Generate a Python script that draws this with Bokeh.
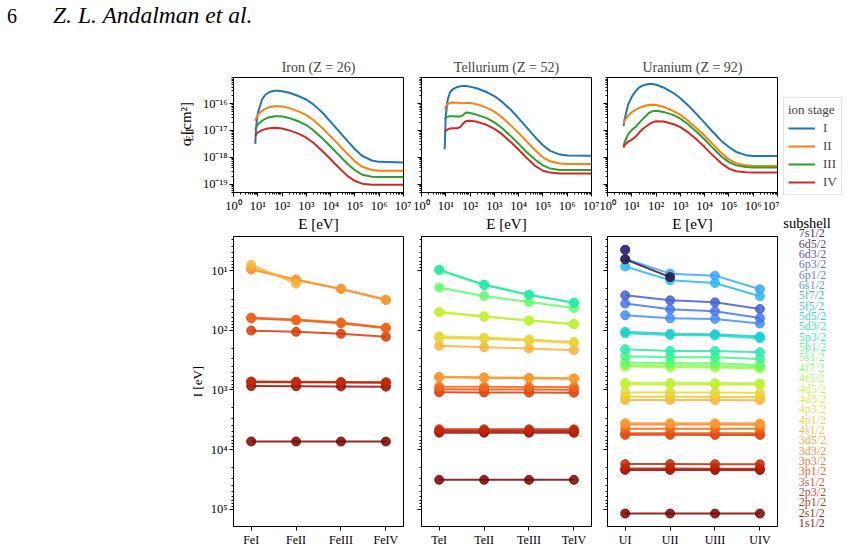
import numpy as np
from bokeh.plotting import figure
from bokeh.models import (Range1d, FixedTicker, CustomJSTickFormatter,
                          Legend, LegendItem, Div, ColumnDataSource)
from bokeh.layouts import row, column
from bokeh.palettes import Turbo256
from bokeh.embed import file_html
from bokeh.resources import INLINE
from bokeh.core.properties import value

SERIF = "Liberation Serif"
nan = float("nan")

ION_STAGES = ["I", "II", "III", "IV"]
ION_COLORS = ["#1f77b4", "#ff7f0e", "#2ca02c", "#d62728"]

# ---- electron-impact ionisation cross sections -------------------------
# energy grid [eV] and log10(sigma_EII / cm^2) for ion stages I..IV
FE_E = [7.9, 8.5, 10, 15, 20, 30, 50, 70, 100, 200, 500, 1e3, 2e3, 5e3,
        1e4, 2e4, 5e4, 1e5, 2e5, 5e5, 1e6, 1e7]
FE_LOGSIG_I = [-17.5, -16.9, -16.35, -15.85, -15.68, -15.57, -15.52, -15.52,
               -15.54, -15.60, -15.73, -15.85, -16.04, -16.37, -16.68, -16.99,
               -17.40, -17.70, -17.95, -18.12, -18.17, -18.19]
FE_LOGSIG_II = [-16.65, -16.55, -16.42, -16.27, -16.20, -16.13, -16.10, -16.10,
                -16.11, -16.17, -16.30, -16.43, -16.62, -16.95, -17.22, -17.50,
                -17.88, -18.15, -18.35, -18.47, -18.50, -18.50]
FE_LOGSIG_III = [-16.97, -16.90, -16.78, -16.64, -16.57, -16.51, -16.47, -16.47,
                 -16.48, -16.54, -16.67, -16.80, -17.00, -17.33, -17.60, -17.88,
                 -18.25, -18.48, -18.65, -18.72, -18.73, -18.73]
FE_LOGSIG_IV = [-17.20, -17.15, -17.08, -16.99, -16.95, -16.92, -16.90, -16.91,
                -16.93, -17.00, -17.13, -17.27, -17.47, -17.80, -18.07, -18.35,
                -18.70, -18.88, -18.98, -19.02, -19.02, -19.02]

TE_E = [9.0, 9.5, 10, 12, 15, 20, 30, 40, 50, 60, 70, 100, 200, 500, 1e3,
        2e3, 5e3, 1e4, 2e4, 5e4, 1e5, 2e5, 5e5, 1e6, 1e7]
TE_LOGSIG_I = [-17.70, -17.00, -16.45, -15.85, -15.58, -15.46, -15.38, -15.36,
               -15.35, -15.35, -15.35, -15.37, -15.44, -15.58, -15.72, -15.92,
               -16.25, -16.55, -16.86, -17.27, -17.55, -17.76, -17.90, -17.93,
               -17.94]
TE_LOGSIG_II = [-16.21, -16.17, -16.12, -16.02, -15.97, -15.96, -15.97, -15.98,
                -15.99, -15.99, -15.98, -15.98, -16.03, -16.16, -16.30, -16.50,
                -16.83, -17.10, -17.38, -17.76, -18.00, -18.15, -18.23, -18.25,
                -18.25]
TE_LOGSIG_III = [-16.58, -16.56, -16.53, -16.49, -16.47, -16.47, -16.48, -16.48,
                 -16.44, -16.37, -16.33, -16.35, -16.42, -16.55, -16.70, -16.90,
                 -17.23, -17.50, -17.78, -18.10, -18.30, -18.42, -18.47, -18.47,
                 -18.47]
TE_LOGSIG_IV = [-17.07, -17.05, -17.02, -16.96, -16.93, -16.92, -16.92, -16.87,
                -16.76, -16.68, -16.65, -16.64, -16.68, -16.80, -16.94, -17.13,
                -17.45, -17.72, -18.00, -18.33, -18.50, -18.57, -18.60, -18.60,
                -18.60]

U_E = [4.6, 5, 7, 10, 15, 20, 30, 50, 70, 100, 200, 500, 1e3, 2e3, 5e3, 1e4,
       2e4, 5e4, 1e5, 2e5, 5e5, 1e6, 1e7]
U_LOGSIG_I = [-16.84, -16.60, -16.05, -15.75, -15.52, -15.40, -15.32, -15.27,
              -15.27, -15.30, -15.40, -15.60, -15.80, -16.05, -16.42, -16.72,
              -17.02, -17.40, -17.62, -17.80, -17.92, -17.95, -17.95]
U_LOGSIG_II = [-16.74, -16.65, -16.45, -16.32, -16.22, -16.17, -16.10, -16.05,
               -16.04, -16.05, -16.12, -16.27, -16.42, -16.63, -16.95, -17.20,
               -17.48, -17.85, -18.08, -18.22, -18.30, -18.32, -18.32]
U_LOGSIG_III = [-17.63, -17.45, -17.15, -16.98, -16.85, -16.72, -16.55, -16.35,
                -16.29, -16.27, -16.31, -16.42, -16.56, -16.76, -17.08, -17.34,
                -17.62, -17.98, -18.18, -18.30, -18.36, -18.38, -18.38]
U_LOGSIG_IV = [-17.63, -17.55, -17.42, -17.35, -17.22, -17.08, -16.93, -16.78,
               -16.70, -16.66, -16.67, -16.76, -16.88, -17.06, -17.36, -17.62,
               -17.90, -18.23, -18.42, -18.52, -18.56, -18.57, -18.57]

# ---- subshell ionisation energies [eV] for stages I..IV -----------------
SUBSHELLS = ["1s1/2", "2s1/2", "2p1/2", "2p3/2", "3s1/2", "3p1/2", "3p3/2",
             "3d3/2", "3d5/2", "4s1/2", "4p1/2", "4p3/2", "4d3/2", "4d5/2",
             "4f5/2", "4f7/2", "5s1/2", "5p1/2", "5p3/2", "5d3/2", "5d5/2",
             "5f5/2", "5f7/2", "6s1/2", "6p1/2", "6p3/2", "6d3/2", "6d5/2",
             "7s1/2"]

FE_IONS = ["FeI", "FeII", "FeIII", "FeIV"]
FE_BINDING = {
    "1s1/2": [7300, 7305, 7310, 7315],
    "2s1/2": [860, 865, 872, 880],
    "2p1/2": [735, 740, 747, 755],
    "2p3/2": [720, 725, 732, 740],
    "3s1/2": [101, 106, 114, 128],
    "3p1/2": [63, 68, 76, 92],
    "3p3/2": [61, 66, 74, 90],
    "3d3/2": [9.5, 14.3, 20.3, 31.0],
    "3d5/2": [9.3, 14.0, 20.0, 30.5],
    "4s1/2": [8.0, 16.5, nan, nan],
}

TE_IONS = ["TeI", "TeII", "TeIII", "TeIV"]
TE_BINDING = {
    "1s1/2": [32100, 32100, 32110, 32120],
    "2s1/2": [5200, 5205, 5210, 5215],
    "2p1/2": [4860, 4865, 4870, 4875],
    "2p3/2": [4560, 4565, 4570, 4575],
    "3s1/2": [1095, 1100, 1105, 1110],
    "3p1/2": [975, 980, 985, 990],
    "3p3/2": [880, 885, 890, 895],
    "3d3/2": [612, 625, 635, 650],
    "3d5/2": [600, 613, 623, 638],
    "4s1/2": [182, 192, 202, 215],
    "4p1/2": [134, 139, 148, 163],
    "4p3/2": [126, 132, 142, 156],
    "4d3/2": [50, 59, 69, 79],
    "4d5/2": [49, 58, 68, 78],
    "5s1/2": [19.2, 26.6, 33.5, 42.2],
    "5p1/2": [9.8, 17.4, 25.5, 34.6],
    "5p3/2": [9.6, 17.1, 25.2, 34.3],
}

U_IONS = ["UI", "UII", "UIII", "UIV"]
U_BINDING = {
    "1s1/2": [118000, 118000, 118100, 118200],
    "2s1/2": [21900, 21900, 21950, 22000],
    "2p1/2": [20800, 20800, 20850, 20900],
    "2p3/2": [17500, 17500, 17550, 17600],
    "3s1/2": [5650, 5655, 5660, 5670],
    "3p1/2": [5300, 5305, 5310, 5320],
    "3p3/2": [4450, 4455, 4460, 4470],
    "3d3/2": [3800, 3805, 3810, 3820],
    "3d5/2": [3600, 3605, 3610, 3620],
    "4s1/2": [1470, 1473, 1476, 1482],
    "4p1/2": [1300, 1303, 1306, 1312],
    "4p3/2": [1097, 1100, 1103, 1109],
    "4d3/2": [805, 808, 811, 817],
    "4d5/2": [757, 760, 763, 769],
    "4f5/2": [403, 414, 420, 435],
    "4f7/2": [384, 389, 392, 414],
    "5s1/2": [346, 355, 355, 384],
    "5p1/2": [271, 282, 282, 301],
    "5p3/2": [207, 221, 221, 232],
    "5d3/2": [112, 120, 122, 136],
    "5d5/2": [106, 114, 116, 127],
    "5f5/2": [8.5, 14.5, 16.1, 26.9],
    "5f7/2": [6.3, 11.2, 12.1, 20.5],
    "6s1/2": [55.8, 62.8, 64.4, 76.9],
    "6p1/2": [35.6, 44.4, 47.9, 62.0],
    "6p3/2": [25.9, 31.4, 33.9, 43.8],
    "6d3/2": [4.46, nan, nan, nan],
    "6d5/2": [4.46, nan, nan, nan],
    "7s1/2": [6.47, 12.8, nan, nan],
}

# ---- axis helpers -------------------------------------------------------
SUP_FORMAT = CustomJSTickFormatter(code="""
const sup = {"0": "\u2070", "1": "\u00b9", "2": "\u00b2", "3": "\u00b3",
             "4": "\u2074", "5": "\u2075", "6": "\u2076", "7": "\u2077",
             "8": "\u2078", "9": "\u2079", "-": "\u207b"};
const e = Math.round(Math.log10(tick));
return "10" + String(e).split("").map(c => sup[c]).join("");
""")
BLANK_FORMAT = CustomJSTickFormatter(code="return '';")

TOP_X = (1, 1e7)
TOP_Y = (10 ** -19.31, 10 ** -15.03)
TOP_H, BOT_H = 199, 315
STRIP_W = 195


def decades(lo, hi):
    return [10.0 ** k for k in range(lo, hi + 1)]


def minors(lo, hi):
    return [m * 10.0 ** k for k in range(lo, hi) for m in range(2, 10)]


def style(p):
    p.grid.visible = False
    p.outline_line_color = "black"
    p.outline_line_width = 1
    p.background_fill_color = "white"
    p.border_fill_color = "white"
    for ax in p.axis:
        ax.axis_line_color = "black"
        ax.major_tick_line_color = "black"
        ax.minor_tick_line_color = "black"
        ax.major_tick_in = 0
        ax.major_tick_out = 4
        ax.minor_tick_in = 0
        ax.minor_tick_out = 2
        ax.major_label_text_font = SERIF
        ax.major_label_text_font_size = "12.5px"
        ax.major_label_text_color = "black"
        ax.major_label_standoff = 2
        ax.axis_label_text_font = SERIF
        ax.axis_label_text_font_style = "normal"
        ax.axis_label_text_font_size = "15px"
        ax.axis_label_text_color = "black"
        ax.axis_label_standoff = 3


def top_panel(title, energies, curves, width, left, right, first):
    p = figure(width=width, height=TOP_H, x_axis_type="log", y_axis_type="log",
               x_range=Range1d(*TOP_X), y_range=Range1d(*TOP_Y),
               min_border_left=left, min_border_right=right,
               min_border_top=42, min_border_bottom=41,
               toolbar_location=None, output_backend="svg", title=title)
    for logsig, color in zip(curves, ION_COLORS):
        p.line(energies, 10.0 ** np.asarray(logsig), line_color=color, line_width=2)
    style(p)
    p.title.align = "center"
    p.title.text_font = SERIF
    p.title.text_font_size = "14px"
    p.title.text_font_style = "normal"
    p.title.standoff = 6
    p.xaxis.ticker = FixedTicker(ticks=decades(0, 7), minor_ticks=minors(0, 7))
    p.xaxis.formatter = SUP_FORMAT
    p.xaxis.axis_label = "E [eV]"
    p.xaxis.axis_label_standoff = 0
    p.yaxis.ticker = FixedTicker(ticks=decades(-19, -15), minor_ticks=minors(-20, -15))
    p.yaxis.formatter = SUP_FORMAT if first else BLANK_FORMAT
    return p


def bottom_panel(ions, binding, width, left, right, first):
    p = figure(width=width, height=BOT_H, y_axis_type="log",
               x_range=Range1d(-0.394, 3.392), y_range=Range1d(1.946e5, 2.67),
               min_border_left=left, min_border_right=right,
               min_border_top=2, min_border_bottom=22,
               toolbar_location=None, output_backend="svg")
    stage = list(range(len(ions)))
    n = len(SUBSHELLS) - 1
    for idx, shell in enumerate(SUBSHELLS):
        if shell not in binding:
            continue
        color = Turbo256[int(round((1 - idx / n) * 255))]
        vals = np.asarray(binding[shell], dtype=float)
        p.line(stage, vals, line_color=color, line_width=2, line_alpha=0.85)
        p.scatter(stage, vals, size=9, fill_color=color, line_color=color,
                  fill_alpha=0.85, line_alpha=0.85)
    style(p)
    p.xaxis.ticker = FixedTicker(ticks=stage)
    p.xaxis.major_label_overrides = {i: name for i, name in enumerate(ions)}
    p.xaxis.major_label_text_font_size = "12px"
    p.yaxis.ticker = FixedTicker(ticks=decades(0, 6), minor_ticks=minors(0, 6))
    if first:
        p.yaxis.formatter = SUP_FORMAT
        p.yaxis.axis_label = "I [eV]"
        p.yaxis.axis_label_text_font_size = "13px"
    else:
        p.yaxis.formatter = BLANK_FORMAT
    return p


# strip to the left of the iron panel carrying the sigma_EII [cm^2] label,
# laid out in pixel units (y measured upward from the strip's bottom edge);
# each piece is turned a quarter turn anticlockwise so that it reads upward
ylabel_strip = figure(width=STRIP_W, height=TOP_H, x_range=Range1d(0, STRIP_W),
                      y_range=Range1d(0, TOP_H), x_axis_location=None,
                      y_axis_location=None, min_border=0, toolbar_location=None,
                      output_backend="svg", outline_line_color=None)
ylabel_strip.grid.visible = False
YLABEL_TEXT = ["σ", "EII", "[cm²]"]
YLABEL_X = [185.0, 189.0, 185.0]
YLABEL_Y = [80.0, 88.5, 100.0]
YLABEL_SIZE = ["15px", "10px", "15px"]
for txt, lx, ly, size in zip(YLABEL_TEXT, YLABEL_X, YLABEL_Y, YLABEL_SIZE):
    ylabel_strip.text(x=[lx], y=[ly], text=[txt], angle=np.pi / 2,
                      text_font=value(SERIF), text_font_size=value(size),
                      text_color="black", text_align="left",
                      text_baseline="middle")

fe_top = top_panel("Iron (Z = 26)", FE_E,
                   [FE_LOGSIG_I, FE_LOGSIG_II, FE_LOGSIG_III, FE_LOGSIG_IV],
                   411 - STRIP_W, 233 - STRIP_W, 8, True)
te_top = top_panel("Tellurium (Z = 52)", TE_E,
                   [TE_LOGSIG_I, TE_LOGSIG_II, TE_LOGSIG_III, TE_LOGSIG_IV],
                   188, 10, 8, False)
u_top = top_panel("Uranium (Z = 92)", U_E,
                  [U_LOGSIG_I, U_LOGSIG_II, U_LOGSIG_III, U_LOGSIG_IV],
                  180, 8, 2, False)

fe_bot = bottom_panel(FE_IONS, FE_BINDING, 411, 233, 8, True)
te_bot = bottom_panel(TE_IONS, TE_BINDING, 188, 9, 8, False)
u_bot = bottom_panel(U_IONS, U_BINDING, 180, 8, 2, False)

# right-hand column: ion-stage legend and the subshell colour key
key = figure(width=69, height=TOP_H + BOT_H, x_range=Range1d(0, 1),
             y_range=Range1d(-2.54, 47.09), x_axis_location=None,
             y_axis_location=None, min_border=0, toolbar_location=None,
             output_backend="svg", outline_line_color=None)
key.grid.visible = False
n_sh = len(SUBSHELLS) - 1
key_src = ColumnDataSource(dict(
    x=[0.28] * len(SUBSHELLS),
    y=list(range(len(SUBSHELLS))),
    name=SUBSHELLS,
    color=[Turbo256[int(round((1 - i / n_sh) * 255))] for i in range(len(SUBSHELLS))],
))
key.text(x="x", y="y", text="name", text_color="color", source=key_src,
         text_font=value(SERIF), text_font_size="12px", text_align="left",
         text_baseline="middle", text_alpha=0.9)
key.text(x=[0.40], y=[len(SUBSHELLS)], text=["subshell"], text_color="black",
         text_font=value(SERIF), text_font_size="14.5px", text_align="center",
         text_baseline="middle")

items = []
for stage, color in zip(ION_STAGES, ION_COLORS):
    # placeholder line (no visible points) that carries the legend swatch style
    r = key.line(x=[nan, nan], y=[nan, nan], line_color=color, line_width=2)
    items.append(LegendItem(label=stage, renderers=[r]))
legend = Legend(items=items, location=(4, 354), title="ion stage",
                label_text_font=SERIF, label_text_font_size="13px",
                title_text_font=SERIF, title_text_font_size="13px",
                title_text_font_style="normal", title_standoff=2,
                glyph_width=27, glyph_height=14, label_height=14,
                label_width=14, label_standoff=8, spacing=2, padding=4,
                margin=0, border_line_color="#cccccc", border_line_width=1,
                background_fill_alpha=0.8)
key.add_layout(legend)

header = Div(text='<span>6</span><span style="margin-left:36px;font-style:italic;'
                  'font-size:23.6px">Z. L. Andalman et al.</span>',
             width=848, height=35, margin=(0, 0, 0, 0),
             styles={"font-family": SERIF, "font-size": "20px",
                     "padding-left": "7px", "padding-top": "3px",
                     "line-height": "1.1", "color": "black"})

body = row(column(row(ylabel_strip, fe_top, spacing=0), fe_bot, spacing=0),
           column(te_top, te_bot, spacing=0),
           column(u_top, u_bot, spacing=0),
           key, spacing=0)
page = column(header, body, spacing=0)

open("out.html", "w").write(file_html(page, INLINE, title="EII cross sections"))
